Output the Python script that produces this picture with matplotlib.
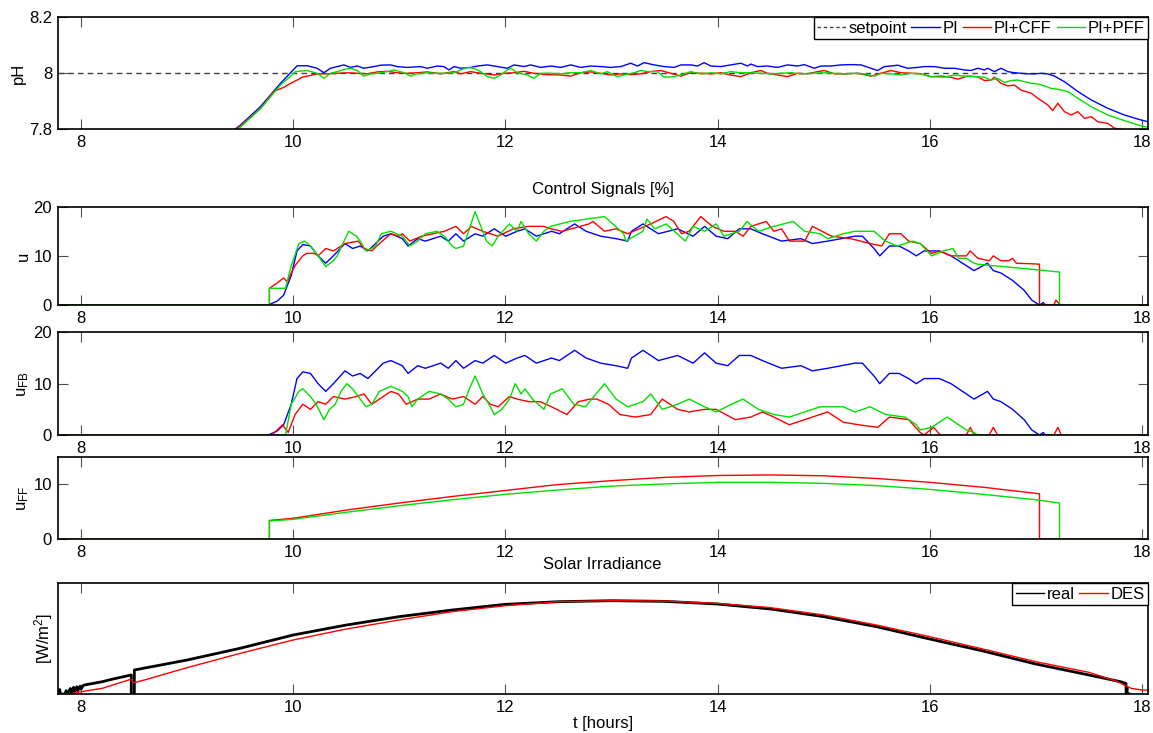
import matplotlib
matplotlib.use('Agg')
import matplotlib.pyplot as plt
from matplotlib.lines import Line2D

plt.rcParams['font.family'] = ['Liberation Sans', 'DejaVu Sans']
plt.rcParams['font.size'] = 12
plt.rcParams['mathtext.default'] = 'regular'

# ---------------- data (hours, value) ----------------
SETPOINT = 8.0
X_TICKS = [8, 10, 12, 14, 16, 18]
X_RANGE = (7.78, 18.055)

ph_pi = [(7.78, 7.30), (9.20, 7.70), (9.45, 7.80), (9.503, 7.815), (9.692, 7.881), (9.880, 7.964), (10.038, 8.027),
         (10.132, 8.027), (10.226, 8.018), (10.289, 8.002), (10.352, 8.018), (10.415, 8.024), (10.478, 8.030),
         (10.541, 8.021), (10.604, 8.026), (10.666, 8.018), (10.761, 8.024), (10.824, 8.029), (10.918, 8.030),
         (10.981, 8.024), (11.075, 8.021), (11.201, 8.024), (11.264, 8.018), (11.358, 8.026), (11.421, 8.024),
         (11.468, 8.012), (11.516, 8.024), (11.579, 8.018), (11.673, 8.021), (11.736, 8.026), (11.830, 8.030),
         (11.925, 8.024), (12.019, 8.018), (12.082, 8.030), (12.176, 8.024), (12.239, 8.030), (12.333, 8.021),
         (12.428, 8.026), (12.522, 8.021), (12.616, 8.030), (12.711, 8.021), (12.805, 8.026), (12.899, 8.024),
         (12.994, 8.021), (13.088, 8.024), (13.182, 8.036), (13.245, 8.026), (13.308, 8.038), (13.402, 8.030),
         (13.497, 8.024), (13.591, 8.021), (13.654, 8.030), (13.748, 8.030), (13.811, 8.026), (13.874, 8.038),
         (13.937, 8.026), (14.031, 8.024), (14.125, 8.030), (14.220, 8.036), (14.283, 8.026), (14.314, 8.033),
         (14.377, 8.024), (14.471, 8.026), (14.566, 8.021), (14.660, 8.030), (14.754, 8.026), (14.817, 8.031),
         (14.912, 8.018), (14.974, 8.026), (15.069, 8.026), (15.163, 8.030), (15.257, 8.031), (15.352, 8.030),
         (15.446, 8.018), (15.509, 8.010), (15.572, 8.024), (15.635, 8.026), (15.698, 8.029), (15.792, 8.018),
         (15.886, 8.021), (15.949, 8.024), (16.044, 8.024), (16.138, 8.018), (16.232, 8.018), (16.327, 8.012),
         (16.390, 8.010), (16.453, 8.018), (16.516, 8.012), (16.547, 8.018), (16.610, 8.006), (16.673, 8.018),
         (16.736, 8.006), (16.798, 8.002), (16.861, 8.000), (16.924, 7.998), (16.987, 7.998), (17.050, 8.000),
         (17.113, 7.998), (17.176, 7.990), (17.270, 7.970), (17.396, 7.935), (17.522, 7.905), (17.679, 7.875),
         (17.836, 7.851), (17.994, 7.833), (18.057, 7.827)]

ph_cff = [(7.78, 7.30), (9.20, 7.69), (9.45, 7.797), (9.503, 7.812), (9.692, 7.874), (9.817, 7.935), (9.912, 7.950),
          (9.975, 7.964), (10.038, 7.976), (10.085, 7.986), (10.132, 7.990), (10.226, 7.998), (10.321, 7.998),
          (10.415, 8.000), (10.509, 8.002), (10.604, 8.000), (10.698, 7.998), (10.792, 8.005), (10.887, 8.007),
          (10.981, 8.002), (11.075, 8.000), (11.170, 8.002), (11.264, 8.005), (11.390, 7.998), (11.453, 8.002),
          (11.516, 8.006), (11.579, 7.998), (11.673, 8.006), (11.767, 8.000), (11.893, 7.994), (11.987, 8.000),
          (12.082, 8.002), (12.176, 8.007), (12.270, 8.000), (12.396, 7.995), (12.522, 7.994), (12.616, 7.990),
          (12.711, 8.002), (12.805, 8.005), (12.899, 8.000), (12.994, 7.994), (13.088, 7.998), (13.182, 7.995),
          (13.277, 7.998), (13.371, 8.006), (13.465, 8.010), (13.560, 8.000), (13.654, 7.990), (13.748, 8.002),
          (13.842, 8.000), (13.937, 7.998), (14.031, 8.002), (14.125, 7.994), (14.220, 7.988), (14.314, 8.002),
          (14.408, 8.010), (14.471, 8.000), (14.566, 7.994), (14.660, 7.988), (14.754, 8.000), (14.849, 7.998),
          (14.943, 8.006), (15.006, 8.010), (15.100, 7.998), (15.195, 7.998), (15.320, 8.000), (15.446, 7.990),
          (15.540, 8.000), (15.635, 8.010), (15.729, 8.002), (15.824, 8.000), (15.918, 7.998), (16.012, 7.988),
          (16.107, 7.990), (16.201, 7.986), (16.264, 7.979), (16.358, 7.990), (16.453, 7.988), (16.516, 7.974),
          (16.578, 7.976), (16.610, 7.986), (16.673, 7.964), (16.736, 7.955), (16.798, 7.958), (16.861, 7.940),
          (16.956, 7.929), (17.019, 7.911), (17.113, 7.887), (17.160, 7.867), (17.208, 7.893), (17.270, 7.863),
          (17.333, 7.851), (17.396, 7.863), (17.459, 7.839), (17.522, 7.845), (17.585, 7.827), (17.679, 7.821),
          (17.742, 7.804), (17.836, 7.798), (18.057, 7.770)]

ph_pff = [(7.78, 7.30), (9.20, 7.69), (9.45, 7.795), (9.503, 7.808), (9.692, 7.874), (9.880, 7.958), (10.022, 8.006),
          (10.132, 8.010), (10.226, 8.000), (10.289, 7.982), (10.352, 8.000), (10.415, 8.006), (10.478, 8.014),
          (10.541, 8.018), (10.604, 8.010), (10.666, 7.990), (10.729, 7.998), (10.792, 8.000), (10.887, 8.006),
          (10.950, 8.012), (11.044, 8.002), (11.107, 7.990), (11.170, 7.998), (11.264, 8.002), (11.358, 8.000),
          (11.421, 8.000), (11.516, 8.002), (11.579, 8.012), (11.641, 8.021), (11.704, 8.018), (11.767, 8.006),
          (11.830, 7.988), (11.893, 7.982), (11.956, 7.994), (12.019, 8.012), (12.050, 8.018), (12.113, 8.002),
          (12.207, 7.994), (12.270, 7.982), (12.333, 8.000), (12.428, 8.000), (12.522, 7.998), (12.616, 8.002),
          (12.711, 8.002), (12.805, 8.010), (12.899, 7.998), (12.962, 8.006), (13.056, 7.988), (13.119, 7.994),
          (13.214, 8.002), (13.277, 8.010), (13.340, 8.006), (13.434, 8.006), (13.497, 7.986), (13.591, 7.988),
          (13.685, 7.998), (13.748, 8.006), (13.842, 7.998), (13.937, 8.002), (14.031, 7.998), (14.125, 8.006),
          (14.220, 8.002), (14.314, 8.002), (14.408, 8.000), (14.503, 7.998), (14.597, 8.000), (14.691, 8.002),
          (14.786, 7.998), (14.880, 8.000), (15.006, 8.002), (15.100, 8.000), (15.195, 7.998), (15.289, 8.000),
          (15.383, 7.998), (15.478, 7.990), (15.540, 8.000), (15.635, 7.998), (15.729, 7.994), (15.824, 8.000),
          (15.918, 7.998), (16.012, 7.988), (16.138, 7.986), (16.232, 7.994), (16.327, 7.990), (16.421, 7.988),
          (16.516, 7.986), (16.578, 7.976), (16.641, 7.982), (16.704, 7.967), (16.767, 7.974), (16.830, 7.976),
          (16.893, 7.970), (16.956, 7.964), (17.019, 7.962), (17.082, 7.955), (17.145, 7.946), (17.208, 7.943),
          (17.302, 7.935), (17.396, 7.911), (17.522, 7.881), (17.679, 7.851), (17.836, 7.831), (17.994, 7.812),
          (18.057, 7.807)]

# feedback signal of PI (equals its total control signal, no feedforward)
ufb_pi = [(7.78, 0), (9.765, 0), (9.85, 0.8), (9.910, 2), (9.982, 6), (10.036, 11), (10.091, 12.3), (10.163, 12),
          (10.235, 10), (10.307, 8.5), (10.379, 10), (10.488, 12.5), (10.560, 11.5), (10.632, 12), (10.704, 11),
          (10.777, 12.5), (10.849, 14), (10.921, 14.5), (11.029, 13.5), (11.083, 12), (11.174, 13.5), (11.246, 13),
          (11.390, 14), (11.462, 13), (11.534, 14.5), (11.606, 13), (11.715, 14.5), (11.787, 14), (11.895, 15.5),
          (12.003, 14), (12.111, 15), (12.184, 15.5), (12.292, 14), (12.436, 15), (12.509, 14.5), (12.653, 16.5),
          (12.761, 15), (12.899, 14), (13.044, 13.5), (13.153, 13), (13.189, 15), (13.298, 16.5), (13.443, 14.5),
          (13.624, 15.5), (13.770, 14), (13.878, 16), (13.987, 14), (14.096, 13.5), (14.205, 15.5), (14.314, 15.5),
          (14.423, 14.5), (14.604, 13), (14.786, 13.5), (14.894, 12.5), (15.039, 13), (15.294, 14), (15.366, 14),
          (15.475, 11.5), (15.529, 10), (15.620, 12), (15.711, 12), (15.801, 11), (15.874, 10), (15.947, 11),
          (16.092, 11), (16.201, 10), (16.346, 8), (16.418, 7), (16.545, 8.5), (16.600, 7), (16.672, 6.5),
          (16.781, 5), (16.890, 3), (16.962, 1), (17.035, 0), (17.071, 0.5), (17.089, 0), (18.055, 0)]

u_cff = [(7.78, 0), (9.776, 0), (9.776, 3.4), (9.85, 4.5), (9.91, 5.5), (9.946, 4.7), (9.982, 6.5), (10.018, 8),
         (10.054, 9), (10.091, 10), (10.127, 10.5), (10.199, 10.5), (10.235, 10), (10.307, 11.5), (10.379, 11),
         (10.488, 12.5), (10.614, 13), (10.668, 11.5), (10.741, 11), (10.813, 12.5), (10.921, 14.5), (10.993, 14),
         (11.029, 14.5), (11.101, 13), (11.210, 14), (11.318, 14.5), (11.426, 15), (11.534, 16), (11.606, 14.5),
         (11.679, 16), (11.787, 15), (11.931, 14), (12.075, 15.5), (12.220, 16), (12.364, 16), (12.427, 15.5),
         (12.536, 15), (12.790, 16.5), (12.826, 17), (12.935, 15), (13.044, 15.5), (13.153, 14.5), (13.370, 16.5),
         (13.516, 18), (13.588, 17), (13.661, 14.5), (13.733, 15), (13.806, 17), (13.842, 18), (13.951, 16),
         (14.060, 15), (14.169, 15), (14.241, 14), (14.314, 16), (14.459, 17), (14.531, 15), (14.604, 15.5),
         (14.677, 13), (14.822, 13), (14.894, 16), (15.076, 14), (15.257, 13.5), (15.439, 12.5), (15.547, 12),
         (15.620, 14.5), (15.729, 14.5), (15.801, 13), (15.910, 12.5), (16.019, 10.5), (16.092, 11), (16.201, 10),
         (16.346, 10), (16.382, 11), (16.455, 9.5), (16.563, 9), (16.600, 10), (16.672, 9), (16.745, 9),
         (16.781, 9.5), (16.817, 8.5), (16.95, 8.4), (17.035, 8.3), (17.035, 0), (17.17, 0), (17.19, 1.0),
         (17.23, 0), (18.055, 0)]

u_pff = [(7.78, 0), (9.776, 0), (9.776, 3.4), (9.928, 3.4), (9.982, 8), (10.054, 12.5), (10.109, 13), (10.163, 12),
         (10.235, 10), (10.307, 7.8), (10.379, 9), (10.415, 10), (10.469, 12.5), (10.524, 15), (10.596, 14),
         (10.632, 13), (10.686, 11), (10.741, 11.5), (10.777, 12), (10.831, 14.5), (10.921, 15), (11.029, 14),
         (11.101, 12), (11.174, 13), (11.246, 14.5), (11.354, 15), (11.426, 14), (11.498, 12), (11.534, 11.5),
         (11.606, 12), (11.715, 19), (11.787, 15), (11.823, 13), (11.877, 12), (11.931, 14), (12.039, 16.5),
         (12.111, 15), (12.148, 17), (12.220, 14.5), (12.292, 13), (12.364, 15), (12.427, 16), (12.608, 17),
         (12.935, 18), (13.116, 14.5), (13.135, 13), (13.298, 15), (13.334, 17.5), (13.407, 15.5), (13.516, 16.5),
         (13.697, 13), (13.770, 16), (13.878, 15), (13.987, 16.5), (14.060, 14), (14.205, 15), (14.278, 17),
         (14.386, 15), (14.531, 16), (14.713, 17), (14.822, 15), (14.967, 14.5), (15.039, 13.5), (15.185, 14.5),
         (15.294, 15), (15.475, 15), (15.584, 13), (15.693, 12), (15.838, 13), (15.910, 12.5), (16.019, 10),
         (16.128, 11), (16.219, 11.5), (16.273, 9.5), (16.346, 9.5), (16.418, 8.5), (16.455, 8.3), (16.6, 8.0),
         (16.8, 7.6), (17.0, 7.2), (17.224, 6.7), (17.224, 0), (18.055, 0)]

ufb_cff = [(7.78, 0), (9.80, 0), (9.90, 2), (9.953, 0.5), (10.018, 4), (10.091, 6), (10.163, 5), (10.235, 6.5),
           (10.307, 6), (10.379, 7.5), (10.488, 7), (10.596, 7.5), (10.668, 8), (10.741, 6), (10.813, 7),
           (10.921, 8.5), (10.993, 8), (11.065, 6), (11.174, 7), (11.282, 7), (11.390, 8), (11.498, 7),
           (11.606, 7.5), (11.715, 6), (11.787, 7.5), (11.859, 6), (11.931, 5.5), (12.039, 7.5), (12.111, 7),
           (12.220, 6.5), (12.328, 6.5), (12.436, 5.5), (12.58, 4), (12.689, 6.5), (12.798, 7), (12.862, 7),
           (12.971, 6), (13.080, 4), (13.225, 3.5), (13.370, 4), (13.479, 7), (13.624, 5), (13.733, 4.5),
           (13.878, 5), (13.987, 5), (14.169, 3), (14.314, 3.5), (14.423, 4.5), (14.531, 3.5), (14.677, 2),
           (14.822, 3), (15.039, 4.5), (15.185, 2.5), (15.330, 2), (15.511, 1.5), (15.620, 3.5), (15.801, 3),
           (15.910, 0.5), (15.947, 0), (16.037, 1.5), (16.10, 0), (16.346, 0), (16.382, 1.5), (16.42, 0),
           (16.56, 0), (16.600, 1.5), (16.64, 0), (17.17, 0), (17.209, 1.5), (17.24, 0), (18.055, 0)]

ufb_pff = [(7.78, 0), (9.928, 0), (9.982, 6), (10.054, 8.5), (10.091, 9), (10.163, 7.5), (10.217, 6), (10.289, 3),
           (10.343, 5), (10.397, 6), (10.451, 8.5), (10.506, 10), (10.560, 9), (10.632, 7), (10.686, 5.5),
           (10.741, 6), (10.813, 8.5), (10.921, 9.5), (11.029, 8.5), (11.083, 7.5), (11.119, 5.5), (11.174, 7),
           (11.282, 8.5), (11.390, 8), (11.462, 7), (11.534, 5.5), (11.606, 6), (11.661, 9), (11.715, 11.5),
           (11.787, 8), (11.859, 5.5), (11.895, 4), (11.967, 5), (12.039, 7), (12.093, 10), (12.148, 8),
           (12.184, 9), (12.256, 7), (12.364, 5), (12.427, 8), (12.536, 9), (12.645, 6), (12.754, 5.5),
           (12.935, 10), (13.044, 7), (13.153, 5.5), (13.298, 6.5), (13.370, 8), (13.479, 5), (13.624, 6),
           (13.733, 7), (13.878, 5.5), (13.987, 4.5), (14.132, 6), (14.241, 7), (14.386, 5), (14.531, 4),
           (14.677, 3.5), (14.822, 4.5), (14.967, 5.5), (15.185, 5.5), (15.294, 4.5), (15.439, 5.5), (15.584, 4),
           (15.765, 3.5), (15.874, 2), (15.910, 1), (16.019, 1.5), (16.164, 3.5), (16.273, 2), (16.346, 1),
           (16.418, 0.5), (16.455, 0), (18.055, 0)]

uff_pi = [(7.78, 0), (18.055, 0)]
uff_cff = [(7.78, 0), (9.776, 0), (9.776, 3.4), (10.0, 3.8), (10.5, 5.3), (11.0, 6.6), (11.5, 7.8), (12.0, 8.9),
           (12.5, 10.0), (13.0, 10.7), (13.5, 11.3), (14.0, 11.65), (14.5, 11.75), (15.0, 11.6), (15.5, 11.1),
           (16.0, 10.4), (16.5, 9.5), (17.035, 8.3), (17.035, 0), (18.055, 0)]
uff_pff = [(7.78, 0), (9.776, 0), (9.776, 3.3), (10.0, 3.6), (10.5, 4.9), (11.0, 6.1), (11.5, 7.2), (12.0, 8.2),
           (12.5, 9.0), (13.0, 9.7), (13.5, 10.1), (14.0, 10.4), (14.5, 10.4), (15.0, 10.2), (15.5, 9.8),
           (16.0, 9.1), (16.5, 8.2), (17.0, 7.2), (17.224, 6.6), (17.224, 0), (18.055, 0)]

irr_real = [(7.78, 0), (7.80, 40), (7.805, 0), (7.85, 0), (7.86, 30), (7.87, 0), (7.90, 50), (7.91, 10),
            (7.93, 60), (7.94, 20), (7.96, 65), (7.97, 30), (7.99, 70), (8.0, 45), (8.02, 75), (8.03, 81),
            (8.2, 111), (8.3, 135), (8.474, 172), (8.474, 0), (8.503, 0), (8.503, 217), (9.0, 307), (9.5, 413),
            (10.0, 533), (10.5, 623), (11.0, 699), (11.5, 759), (12.0, 810), (12.5, 834), (13.0, 843),
            (13.5, 837), (14.0, 813), (14.5, 768), (15.0, 699), (15.5, 608), (16.0, 497), (16.5, 389),
            (17.0, 271), (17.5, 172), (17.8, 111), (17.85, 95), (17.852, 0), (17.86, 60), (17.862, 0), (17.88, 0)]
irr_des = [(7.78, 0), (7.90, 0), (8.0, 21), (8.2, 51), (8.47, 133), (8.50, 102), (8.6, 127), (9.0, 238),
           (9.5, 367), (10.0, 488), (10.5, 587), (11.0, 669), (11.5, 744), (12.0, 798), (12.5, 834), (13.0, 843),
           (13.5, 840), (14.0, 819), (14.5, 780), (15.0, 714), (15.5, 623), (16.0, 518), (16.5, 407),
           (17.0, 292), (17.5, 196), (17.75, 120), (17.9, 51), (18.0, 36), (18.055, 35)]

C_PI, C_CFF, C_PFF = '#0000ff', '#ff0000', '#00e000'
LW = 1.0
FS = 12


def unpack(pairs):
    return [p[0] for p in pairs], [p[1] for p in pairs]


def style(ax, ylim, yticks, ylabel):
    ax.set_xlim(*X_RANGE)
    ax.set_ylim(*ylim)
    ax.set_xticks(X_TICKS)
    ax.set_xticklabels([str(v) for v in X_TICKS])
    ax.set_yticks(yticks)
    ax.tick_params(direction='in', top=True, right=True, length=7, width=0.8,
                   color='#505050', labelsize=FS, pad=4)
    for s in ax.spines.values():
        s.set_linewidth(1.2)
        s.set_color('black')
    ax.set_ylabel(ylabel, fontsize=FS, labelpad=2)


fig = plt.figure(figsize=(11.53, 7.33), dpi=100)
L, W = 0.0500, 0.9454
ax1 = fig.add_axes([L, 0.8236, W, 0.1528])
ax2 = fig.add_axes([L, 0.5839, W, 0.1341])
ax3 = fig.add_axes([L, 0.4065, W, 0.1401])
ax4 = fig.add_axes([L, 0.2647, W, 0.1115])
ax5 = fig.add_axes([L, 0.0532, W, 0.1510])

# pH
ax1.axhline(SETPOINT, color='#404040', ls=(0, (4, 3)), lw=1.0)
for data, c in ((ph_pi, C_PI), (ph_cff, C_CFF), (ph_pff, C_PFF)):
    ax1.plot(*unpack(data), color=c, lw=LW)
style(ax1, (7.8, 8.2), [7.8, 8.0, 8.2], 'pH')
ax1.set_yticklabels(['7.8', '8', '8.2'])
h = [Line2D([], [], color='#404040', ls=(0, (2.5, 2)), lw=1.0),
     Line2D([], [], color=C_PI, lw=LW), Line2D([], [], color=C_CFF, lw=LW), Line2D([], [], color=C_PFF, lw=LW)]
leg = ax1.legend(h, ['setpoint', 'PI', 'PI+CFF', 'PI+PFF'], ncol=4, loc='upper right', borderaxespad=0,
                 fancybox=False, edgecolor='black', framealpha=1, fontsize=FS, handlelength=1.7,
                 handletextpad=0.15, columnspacing=0.3, borderpad=0.2)
leg.get_frame().set_linewidth(1.0)

# u
for data, c in ((ufb_pi, C_PI), (u_cff, C_CFF), (u_pff, C_PFF)):
    ax2.plot(*unpack(data), color=c, lw=LW)
style(ax2, (0, 20), [0, 10, 20], 'u')
ax2.set_title('Control Signals [%]', fontsize=FS, pad=9)

# uFB
for data, c in ((ufb_pi, C_PI), (ufb_cff, C_CFF), (ufb_pff, C_PFF)):
    ax3.plot(*unpack(data), color=c, lw=LW)
style(ax3, (0, 20), [0, 10, 20], r'u$_{FB}$')

# uFF
for data, c in ((uff_pi, C_PI), (uff_cff, C_CFF), (uff_pff, C_PFF)):
    ax4.plot(*unpack(data), color=c, lw=LW)
style(ax4, (0, 15), [0, 10], r'u$_{FF}$')

# irradiance
ax5.plot(*unpack(irr_real), color='black', lw=2.0)
ax5.plot(*unpack(irr_des), color=C_CFF, lw=LW)
style(ax5, (0, 1000), [], r'[W/m$^{2}$]')
ax5.set_title('Solar Irradiance', fontsize=FS, pad=10)
ax5.set_xlabel('t [hours]', fontsize=FS, labelpad=1)
h5 = [Line2D([], [], color='black', lw=LW), Line2D([], [], color=C_CFF, lw=LW)]
leg5 = ax5.legend(h5, ['real', 'DES'], ncol=2, loc='upper right', borderaxespad=0, fancybox=False,
                  edgecolor='black', framealpha=1, fontsize=FS, handlelength=1.7, handletextpad=0.15,
                  columnspacing=0.3, borderpad=0.2)
leg5.get_frame().set_linewidth(1.0)

fig.savefig('out.png', dpi=100)
